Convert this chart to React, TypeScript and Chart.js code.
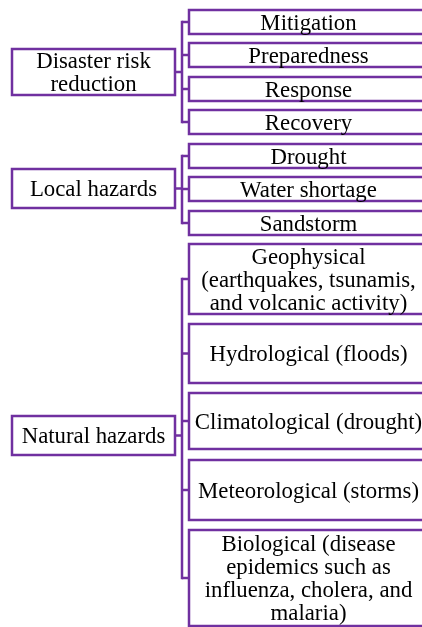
import React, { useEffect, useRef } from "react";
import { Chart, registerables } from "chart.js";

Chart.register(...registerables);

// Parent nodes (labels split into lines) and their vertical extents (diagram units, top = 0)
const parentLabels: string[][] = [
  ["Disaster risk", "reduction"],
  ["Local hazards"],
  ["Natural hazards"],
];
const parentTop = [49, 169, 416];
const parentBottom = [95, 208, 455];

// Child nodes per parent
const childLabels: string[][][] = [
  [["Mitigation"], ["Preparedness"], ["Response"], ["Recovery"]],
  [["Drought"], ["Water shortage"], ["Sandstorm"]],
  [
    ["Geophysical", "(earthquakes, tsunamis,", "and volcanic activity)"],
    ["Hydrological (floods)"],
    ["Climatological (drought)"],
    ["Meteorological (storms)"],
    ["Biological (disease", "epidemics such as", "influenza, cholera, and", "malaria)"],
  ],
];
const childTop = [
  [10, 43, 77, 110],
  [144, 177, 211],
  [244, 324, 393, 460, 530],
];
const childBottom = [
  [34, 67, 101, 134],
  [168, 201, 235],
  [314, 383, 449, 520, 626],
];

const PURPLE = "#7030A0";
const PARENT_X0 = 12;
const PARENT_X1 = 175;
const SPINE_X = 182;
const CHILD_X0 = 189;
const CHILD_X1 = 428;
const FONT_SIZE = 22.8;
const LINE_H = 23;

function rect(x0: number, x1: number, y0: number, y1: number) {
  return [
    { x: x0, y: y0 },
    { x: x1, y: y0 },
    { x: x1, y: y1 },
    { x: x0, y: y1 },
    { x: x0, y: y0 },
  ];
}

export default function App() {
  const ref = useRef<HTMLCanvasElement | null>(null);

  useEffect(() => {
    document.body.style.margin = "0";
    const canvas = ref.current;
    if (!canvas) return;

    const datasets: any[] = [];
    const texts: { lines: string[]; x: number; y: number }[] = [];
    const lineStyle = {
      showLine: true,
      borderColor: PURPLE,
      backgroundColor: PURPLE,
      borderWidth: 2.5,
      pointRadius: 0,
      fill: false,
      tension: 0,
      borderJoinStyle: "miter",
      borderCapStyle: "square",
    };

    parentLabels.forEach((pl, g) => {
      const pMid = (parentTop[g] + parentBottom[g]) / 2;
      datasets.push({ ...lineStyle, data: rect(PARENT_X0, PARENT_X1, parentTop[g], parentBottom[g]) });
      texts.push({ lines: pl, x: (PARENT_X0 + PARENT_X1) / 2, y: pMid });
      datasets.push({ ...lineStyle, borderCapStyle: "butt", data: [{ x: PARENT_X1, y: pMid }, { x: SPINE_X, y: pMid }] });
      const mids = childTop[g].map((t, i) => (t + childBottom[g][i]) / 2);
      datasets.push({
        ...lineStyle,
        data: [{ x: SPINE_X, y: mids[0] }, { x: SPINE_X, y: mids[mids.length - 1] }],
      });
      childLabels[g].forEach((cl, i) => {
        datasets.push({ ...lineStyle, borderCapStyle: "butt", data: [{ x: SPINE_X, y: mids[i] }, { x: CHILD_X0, y: mids[i] }] });
        datasets.push({ ...lineStyle, data: rect(CHILD_X0, CHILD_X1, childTop[g][i], childBottom[g][i]) });
        texts.push({ lines: cl, x: (CHILD_X0 + CHILD_X1) / 2, y: mids[i] });
      });
    });

    const textPlugin = {
      id: "nodeText",
      afterDatasetsDraw(chart: any) {
        const { ctx, scales } = chart;
        ctx.save();
        ctx.fillStyle = "#000";
        ctx.font = `${FONT_SIZE}px 'Liberation Serif', 'Times New Roman', serif`;
        ctx.textAlign = "center";
        ctx.textBaseline = "alphabetic";
        texts.forEach((t) => {
          const cx = scales.x.getPixelForValue(t.x);
          const cy = scales.y.getPixelForValue(t.y);
          const n = t.lines.length;
          t.lines.forEach((ln, i) => {
            ctx.fillText(ln, cx, cy + 7.5 + (i - (n - 1) / 2) * LINE_H);
          });
        });
        ctx.restore();
      },
    };

    const chart = new Chart(canvas, {
      type: "scatter",
      data: { datasets },
      options: {
        animation: false,
        responsive: false,
        events: [],
        layout: { padding: 0 },
        plugins: { legend: { display: false }, tooltip: { enabled: false }, title: { display: false } },
        scales: {
          x: { type: "linear", min: 0, max: 422, display: false },
          y: { type: "linear", min: 0, max: 627, reverse: true, display: false },
        },
      },
      plugins: [textPlugin],
    } as any);

    return () => chart.destroy();
  }, []);

  return (
    <div style={{ position: "absolute", left: 0, top: 0, width: 422, height: 627, background: "#fff" }}>
      <canvas ref={ref} width={422} height={627} style={{ display: "block", width: 422, height: 627 }} />
    </div>
  );
}
